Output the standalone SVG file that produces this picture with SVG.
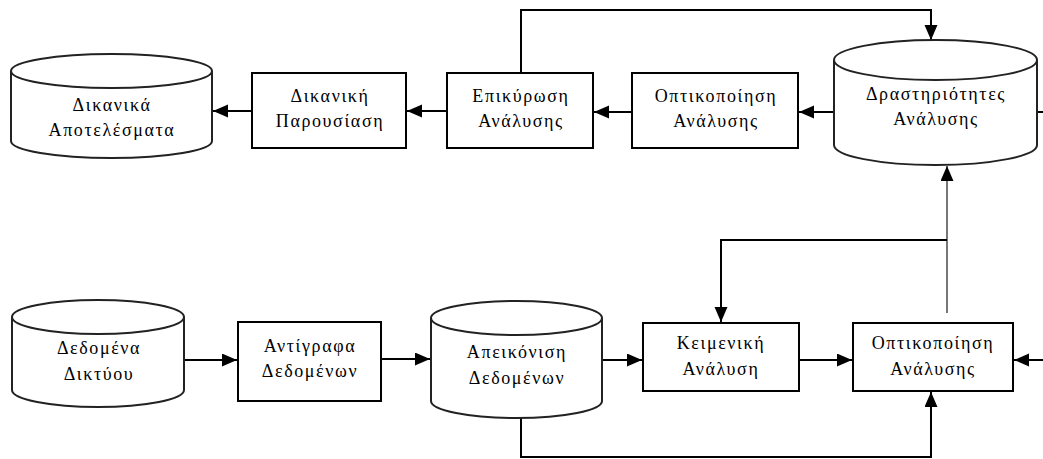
<svg xmlns="http://www.w3.org/2000/svg" width="1043" height="459" viewBox="0 0 1043 459">
<style>
.box{fill:#fff;stroke:#000;stroke-width:2}
.cyl{fill:#fff;stroke:#222;stroke-width:2}
.t{font-family:"Liberation Serif","Times New Roman",serif;font-size:18px;fill:#000;text-anchor:middle;letter-spacing:1.6px}
.c{fill:none;stroke:#000;stroke-width:2}
.g{fill:none;stroke:#777;stroke-width:2}
</style>
<defs>
<marker id="ah" markerUnits="userSpaceOnUse" markerWidth="16" markerHeight="14" refX="15" refY="6.5" orient="auto">
<path d="M0,0 L15,6.5 L0,13 z" fill="#000"/>
</marker>
</defs>
<g id="connectors">
<path class="c" d="M252,111 L213,111" marker-end="url(#ah)"/>
<path class="c" d="M447,111 L407,111" marker-end="url(#ah)"/>
<path class="c" d="M632,112 L594,112" marker-end="url(#ah)"/>
<path class="c" d="M834,112 L799,112" marker-end="url(#ah)"/>
<path class="c" d="M1037,112 L1043,112"/>
<path class="c" d="M521,73 L521,10 L931,10 L931,40" marker-end="url(#ah)"/>
<path class="g" d="M947,313 L947,166" marker-end="url(#ah)"/>
<path class="c" d="M947,240 L721,240 L721,322" marker-end="url(#ah)"/>
<path class="c" d="M184,360 L237,360" marker-end="url(#ah)"/>
<path class="c" d="M381,359 L430,359" marker-end="url(#ah)"/>
<path class="c" d="M602,360 L642,360" marker-end="url(#ah)"/>
<path class="c" d="M799,360 L852,360" marker-end="url(#ah)"/>
<path class="c" d="M1043,360 L1014,360" marker-end="url(#ah)"/>
<path class="c" d="M521,418 L521,457 L931,457 L931,392" marker-end="url(#ah)"/>
</g>
<g id="dikanika-apotelesmata">
<path class="cyl" d="M11,71 L11,141 A100.5,17 0 0 0 212,141 L212,71"/>
<ellipse class="cyl" cx="111.5" cy="71" rx="100.5" ry="17"/>
<text class="t" x="112" y="111">Δικανικά</text>
<text class="t" x="112" y="136">Αποτελέσματα</text>
</g>
<g id="dikaniki-parousiasi">
<rect class="box" x="252" y="73" width="154" height="75"/>
<text class="t" x="330" y="102">Δικανική</text>
<text class="t" x="330" y="127">Παρουσίαση</text>
</g>
<g id="epikyrosi">
<rect class="box" x="447" y="73" width="146" height="75"/>
<text class="t" x="521" y="102">Επικύρωση</text>
<text class="t" x="521" y="127">Ανάλυσης</text>
</g>
<g id="optikopoiisi-top">
<rect class="box" x="632" y="73" width="166" height="75"/>
<text class="t" x="716" y="102">Οπτικοποίηση</text>
<text class="t" x="716" y="127">Ανάλυσης</text>
</g>
<g id="drastiriotites">
<path class="cyl" d="M834,60 L834,145 A101.5,20 0 0 0 1037,145 L1037,60"/>
<ellipse class="cyl" cx="935.5" cy="60" rx="101.5" ry="20"/>
<text class="t" x="936" y="100">Δραστηριότητες</text>
<text class="t" x="936" y="125">Ανάλυσης</text>
</g>
<g id="dedomena-diktyou">
<path class="cyl" d="M12,317 L12,390 A86,17 0 0 0 184,390 L184,317"/>
<ellipse class="cyl" cx="98" cy="317" rx="86" ry="17"/>
<text class="t" x="99" y="354">Δεδομένα</text>
<text class="t" x="99" y="380">Δικτύου</text>
</g>
<g id="antigrafa">
<rect class="box" x="238" y="322" width="143" height="79"/>
<text class="t" x="310" y="352">Αντίγραφα</text>
<text class="t" x="310" y="377">Δεδομένων</text>
</g>
<g id="apeikonisi">
<path class="cyl" d="M431,318 L431,401 A85.5,17 0 0 0 602,401 L602,318"/>
<ellipse class="cyl" cx="516.5" cy="318" rx="85.5" ry="17"/>
<text class="t" x="517" y="358">Απεικόνιση</text>
<text class="t" x="517" y="384">Δεδομένων</text>
</g>
<g id="keimeniki">
<rect class="box" x="643" y="323" width="156" height="68"/>
<text class="t" x="721" y="349">Κειμενική</text>
<text class="t" x="721" y="375">Ανάλυση</text>
</g>
<g id="optikopoiisi-bottom">
<rect class="box" x="853" y="323" width="160" height="68"/>
<text class="t" x="933" y="349">Οπτικοποίηση</text>
<text class="t" x="933" y="375">Ανάλυσης</text>
</g>
</svg>
